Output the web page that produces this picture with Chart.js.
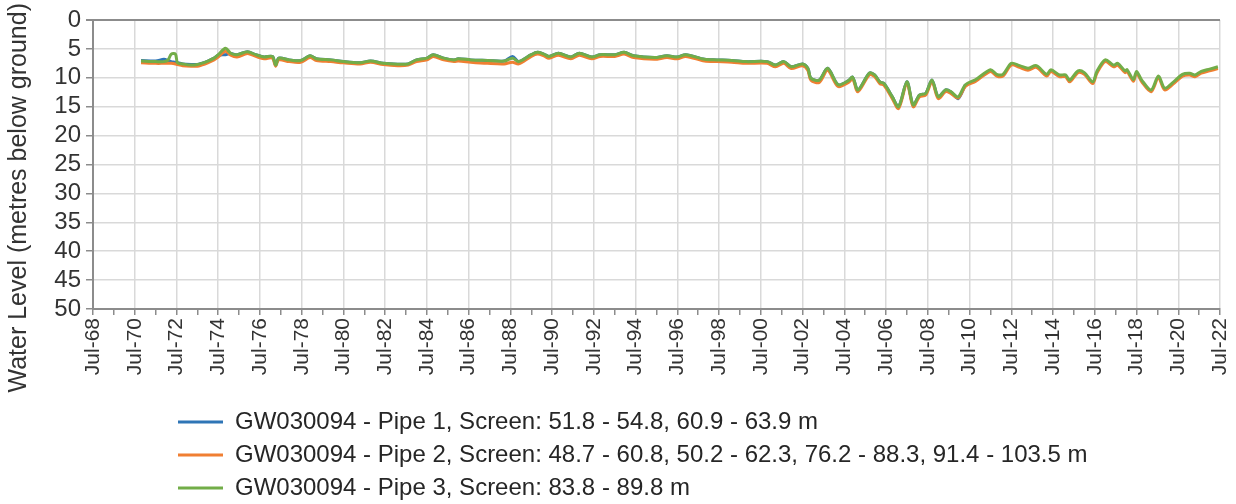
<!DOCTYPE html>
<html>
<head>
<meta charset="utf-8">
<script src="https://cdn.jsdelivr.net/npm/chart.js@4.4.0/dist/chart.umd.min.js"></script>
<style>
  html, body { margin: 0; padding: 0; background: #fff; }
  #wrap { width: 1236px; height: 504px; }
</style>
</head>
<body>
<div id="wrap"><canvas id="myChart"></canvas></div>
<script>
// Readings taken off the hydrograph (decimal years, metres below ground)
var years = [
  1970.8, 1971.5, 1971.9, 1972.1, 1972.25, 1972.45, 1972.55, 1972.8, 1973.2, 1973.5,
  1973.7, 1974.0, 1974.3, 1974.5, 1974.85, 1975.1, 1975.4, 1975.9, 1976.3, 1976.7,
  1977.1, 1977.25, 1977.4, 1977.9, 1978.45, 1978.9, 1979.2, 1979.9, 1980.5, 1981.3,
  1981.8, 1982.4, 1983.1, 1983.6, 1984.0, 1984.5, 1984.8, 1985.3, 1985.8, 1986.0,
  1986.6, 1987.4, 1988.2, 1988.6, 1988.9, 1989.5, 1989.8, 1990.1, 1990.35, 1990.8,
  1991.4, 1991.8, 1992.4, 1992.8, 1993.5, 1993.95, 1994.4, 1995.4, 1996.0, 1996.5,
  1996.9, 1997.8, 1998.4, 1999.1, 1999.8, 2000.8, 2001.2, 2001.6, 2001.95, 2002.5,
  2002.75, 2002.9, 2003.3, 2003.7, 2004.2, 2004.7, 2004.9, 2005.15, 2005.7, 2005.95,
  2006.2, 2006.4, 2006.8, 2007.1, 2007.5, 2007.8, 2008.1, 2008.4, 2008.7, 2009.0,
  2009.35, 2009.6, 2009.95, 2010.3, 2010.8, 2011.5, 2011.8, 2012.1, 2012.5, 2012.9,
  2013.3, 2013.7, 2014.2, 2014.4, 2014.8, 2015.1, 2015.3, 2015.7, 2016.0, 2016.4,
  2016.6, 2017.0, 2017.4, 2017.6, 2017.95, 2018.05, 2018.35, 2018.5, 2018.75, 2019.2,
  2019.55, 2019.85, 2020.25, 2020.7, 2021.05, 2021.3, 2021.6, 2022.0, 2022.4
];

var pipe1 = [
  7.0, 7.1, 6.8, 7.0, 7.2, 7.3, 7.4, 7.6, 7.7, 7.7,
  7.5, 7.1, 6.6, 6.1, 6.0, 5.8, 6.0, 5.5, 6.0, 6.4,
  6.3, 7.8, 6.6, 6.9, 7.0, 6.2, 6.7, 6.9, 7.2, 7.4,
  7.1, 7.5, 7.65, 7.6, 6.9, 6.6, 6.0, 6.6, 6.9, 6.7,
  6.9, 7.0, 7.1, 6.3, 7.2, 6.0, 5.6, 5.9, 6.3, 5.75,
  6.4, 5.75, 6.4, 6.0, 6.0, 5.6, 6.2, 6.5, 6.2, 6.4,
  6.0, 6.8, 6.9, 7.0, 7.2, 7.2, 7.8, 7.2, 8.1, 7.6,
  8.35, 10.1, 10.4, 8.35, 11.2, 10.5, 9.9, 12.1, 9.2, 9.5,
  10.7, 11.0, 13.3, 15.0, 10.7, 14.7, 13.0, 12.7, 10.4, 13.3,
  12.1, 12.4, 13.6, 11.2, null, null, null, null, null, null,
  null, null, null, null, null, null, null, null, null, null,
  null, null, null, null, null, null, null, null, null, null,
  null, null, null, null, null, null, null, null, null
];

var pipe2 = [
  7.4, 7.5, 7.5, 7.5, 7.5, 7.6, 7.7, 7.9, 8.0, 8.0,
  7.8, 7.4, 6.9, 6.4, 5.4, 6.1, 6.4, 5.8, 6.3, 6.7,
  6.6, 8.0, 6.9, 7.2, 7.3, 6.5, 7.0, 7.2, 7.4, 7.6,
  7.3, 7.7, 7.9, 7.8, 7.2, 6.9, 6.3, 6.9, 7.2, 7.1,
  7.3, 7.5, 7.6, 7.3, 7.6, 6.3, 5.9, 6.2, 6.6, 6.1,
  6.7, 6.1, 6.7, 6.3, 6.3, 5.9, 6.5, 6.8, 6.5, 6.7,
  6.3, 7.1, 7.2, 7.3, 7.5, 7.5, 8.1, 7.5, 8.4, 7.9,
  8.7, 10.4, 10.8, 8.7, 11.5, 10.8, 10.2, 12.4, 9.5, 9.8,
  11.0, 11.3, 13.6, 15.3, 11.0, 15.0, 13.3, 13.0, 10.7, 13.6,
  12.4, 12.7, 13.5, 11.5, 10.6, 8.9, 9.7, 9.7, 7.8, 8.2,
  8.7, 8.2, 9.7, 8.9, 9.8, 9.8, 10.7, 9.1, 9.4, 11.0,
  9.2, 7.2, 8.1, 7.8, 9.1, 8.9, 10.6, 9.2, 10.7, 12.4,
  10.0, 12.1, 11.1, 9.7, 9.5, 9.8, 9.2, 8.8, 8.4
];

var pipe3 = [
  7.1, 7.2, 7.2, 6.9, 5.9, 5.9, 7.4, 7.6, 7.8, 7.7,
  7.5, 7.1, 6.6, 6.0, 4.9, 5.75, 6.0, 5.5, 6.0, 6.4,
  6.3, 7.8, 6.6, 6.9, 7.0, 6.2, 6.7, 6.9, 7.2, 7.4,
  7.1, 7.5, 7.65, 7.6, 6.9, 6.6, 6.0, 6.6, 6.9, 6.7,
  6.9, 7.0, 7.1, 6.6, 7.2, 6.0, 5.6, 5.9, 6.3, 5.75,
  6.4, 5.75, 6.4, 6.0, 6.0, 5.6, 6.2, 6.5, 6.2, 6.4,
  6.0, 6.8, 6.9, 7.0, 7.2, 7.2, 7.8, 7.2, 8.1, 7.6,
  8.35, 10.1, 10.4, 8.35, 11.2, 10.5, 9.9, 12.1, 9.2, 9.5,
  10.7, 11.0, 13.3, 15.0, 10.7, 14.7, 13.0, 12.7, 10.4, 13.3,
  12.1, 12.4, 13.3, 11.2, 10.3, 8.6, 9.4, 9.4, 7.5, 7.9,
  8.35, 7.9, 9.4, 8.6, 9.5, 9.5, 10.4, 8.8, 9.1, 10.7,
  8.9, 6.9, 7.8, 7.5, 8.8, 8.6, 10.3, 8.9, 10.4, 12.1,
  9.7, 11.8, 10.8, 9.4, 9.2, 9.5, 8.9, 8.5, 8.1
];

var seriesNames = [
  'GW030094 - Pipe 1, Screen: 51.8 - 54.8, 60.9 - 63.9 m',
  'GW030094 - Pipe 2, Screen: 48.7 - 60.8, 50.2 - 62.3, 76.2 - 88.3, 91.4 - 103.5 m',
  'GW030094 - Pipe 3, Screen: 83.8 - 89.8 m'
];

// one label every second year, starting Jul-68
var xTickLabels = [
  'Jul-68', 'Jul-70', 'Jul-72', 'Jul-74', 'Jul-76', 'Jul-78', 'Jul-80', 'Jul-82', 'Jul-84', 'Jul-86',
  'Jul-88', 'Jul-90', 'Jul-92', 'Jul-94', 'Jul-96', 'Jul-98', 'Jul-00', 'Jul-02', 'Jul-04', 'Jul-06',
  'Jul-08', 'Jul-10', 'Jul-12', 'Jul-14', 'Jul-16', 'Jul-18', 'Jul-20', 'Jul-22'
];
var axisStart = 1968.5; // Jul-68

// x is counted in years from Jul-68 so the ticks land on July
function toPoints(levels) {
  return years.map(function (yr, i) {
    return { x: yr - axisStart, y: levels[i] };
  });
}

// legend rows in the reference all start at the same left edge
var legendRows = {
  id: 'legendRows',
  afterLayout: function (chart) {
    var lg = chart.legend;
    var pad = lg.options.labels.padding;
    lg.lineWidths.fill(lg.left + pad + lg.right - 2 * 178);
    lg.top += 6;
  }
};

Chart.defaults.font.family = '"Liberation Sans", Arial, sans-serif';
Chart.defaults.color = '#333333';

var axisGrey = '#8c8c8c';
var gridGrey = '#d9d9d9';

var ctx = document.getElementById('myChart').getContext('2d');
var myChart = new Chart(ctx, {
  type: 'line',
  data: {
    datasets: [
      { label: seriesNames[0], data: toPoints(pipe1), borderColor: '#2e75b6', backgroundColor: '#2e75b6', order: 2 },
      { label: seriesNames[1], data: toPoints(pipe2), borderColor: '#f07f32', backgroundColor: '#f07f32', order: 1 },
      { label: seriesNames[2], data: toPoints(pipe3), borderColor: '#72ad48', backgroundColor: '#72ad48', order: 0 }
    ]
  },
  plugins: [legendRows],
  options: {
    responsive: true,
    maintainAspectRatio: false,
    animation: false,
    layout: { padding: { left: 0, right: 16, top: 3, bottom: 0 } },
    elements: {
      line: { borderWidth: 3, tension: 0.3, fill: false },
      point: { radius: 0, hoverRadius: 0, borderWidth: 3 }
    },
    scales: {
      x: {
        type: 'linear',
        min: 0,
        max: 54,
        border: { color: axisGrey, width: 2 },
        grid: {
          color: function (c) { return c.tick && c.tick.value % 2 === 0 ? gridGrey : 'rgba(0,0,0,0)'; },
          tickColor: axisGrey,
          tickLength: 6,
          lineWidth: 1.5
        },
        ticks: {
          stepSize: 1,
          maxTicksLimit: 100,
          autoSkip: false,
          minRotation: 90,
          maxRotation: 90,
          padding: 3,
          font: { size: 21 },
          callback: function (v) { return v % 2 === 0 ? xTickLabels[v / 2] : ''; }
        },
        afterFit: function (s) {
          s.height = 86;
          // upright labels only need half a line to the right, not a whole one
          s.paddingRight = 0;
        }
      },
      y: {
        reverse: true,
        min: 0,
        max: 50,
        border: { color: axisGrey, width: 2 },
        grid: {
          color: function (c) { return c.tick && c.tick.value === 0 ? axisGrey : gridGrey; },
          lineWidth: function (c) { return c.tick && c.tick.value === 0 ? 2 : 1.5; },
          tickColor: axisGrey,
          tickLength: 7
        },
        ticks: { stepSize: 5, autoSkip: false, padding: 5, font: { size: 24 } },
        afterFit: function (s) { s.width = 56; }
      }
    },
    plugins: {
      // left title spans below the plot, so it is drawn by the title plugin
      title: {
        display: true,
        position: 'left',
        align: 'end',
        text: 'Water Level (metres below ground)',
        color: '#333333',
        font: { size: 25, weight: 'normal' },
        padding: { top: 4, bottom: 3 }
      },
      // empty spacer that pushes the plot top down to the reference position
      subtitle: {
        display: true,
        position: 'top',
        text: '',
        padding: 0,
        font: { size: 10, lineHeight: 1.7 }
      },
      legend: {
        display: true,
        position: 'bottom',
        align: 'center',
        labels: {
          usePointStyle: true,
          pointStyle: 'line',
          pointStyleWidth: 45,
          padding: 9,
          color: '#262626',
          font: { size: 24 },
          sort: function (a, b) { return a.datasetIndex - b.datasetIndex; }
        }
      },
      tooltip: { enabled: false }
    }
  }
});
</script>
</body>
</html>
